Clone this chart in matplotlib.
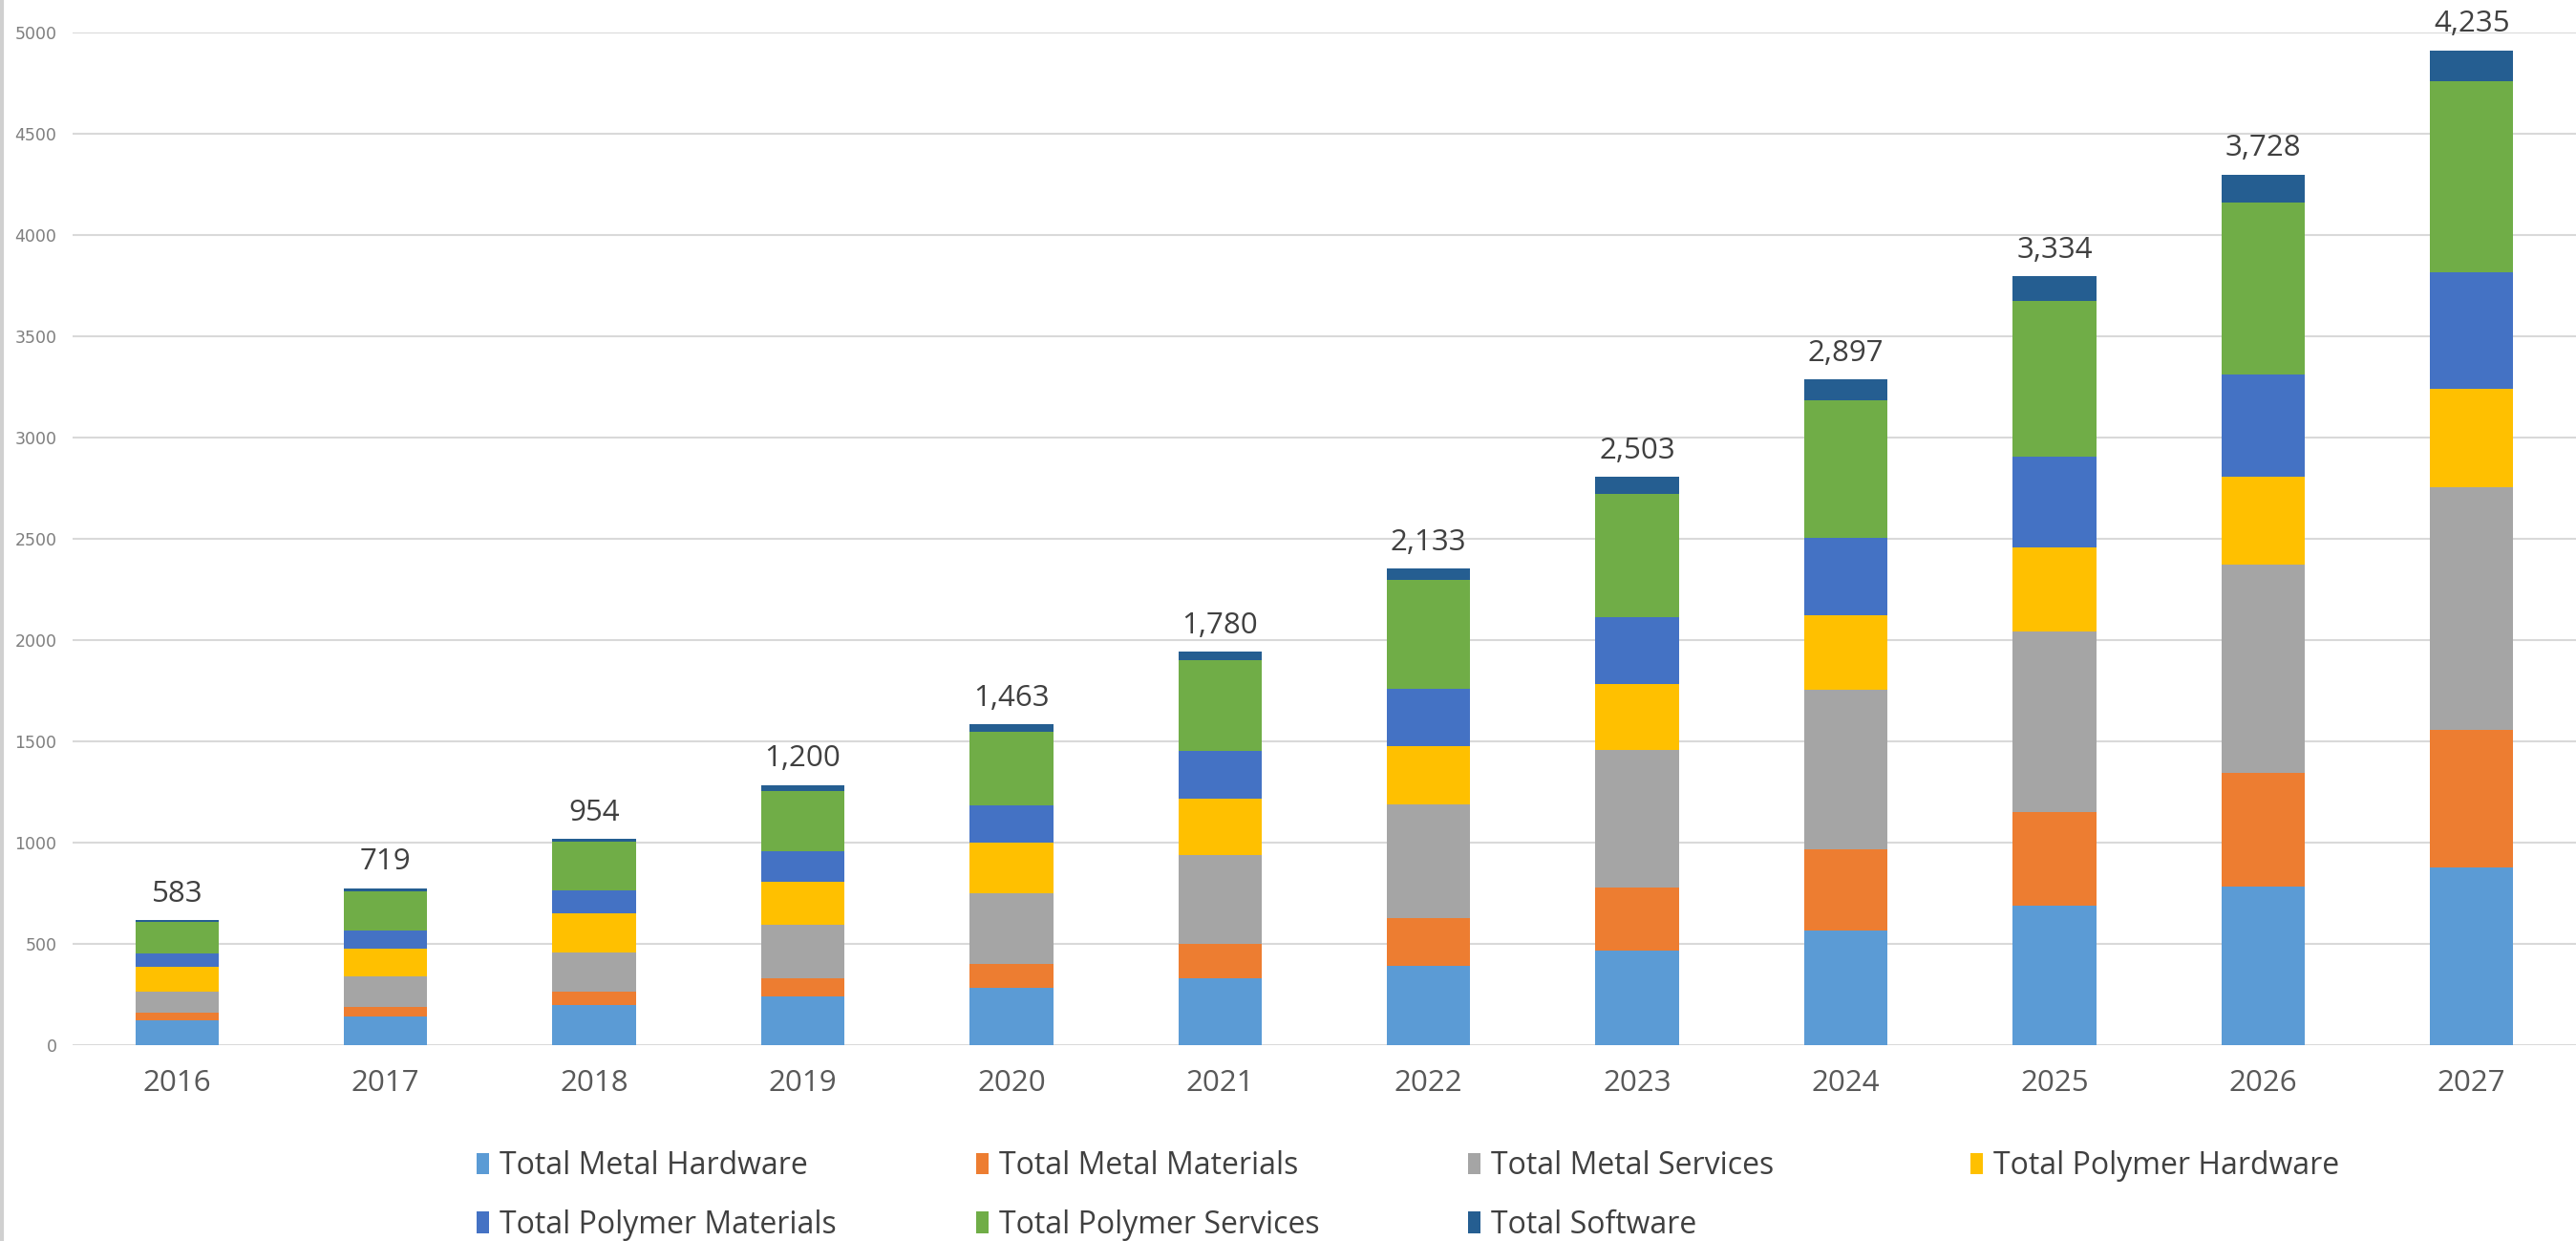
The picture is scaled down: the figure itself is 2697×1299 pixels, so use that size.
import matplotlib
matplotlib.use('Agg')
import matplotlib.pyplot as plt
import numpy as np

# market size by segment, per year
years = ['2016', '2017', '2018', '2019', '2020', '2021', '2022', '2023', '2024', '2025', '2026', '2027']
metal_hardware = [122, 142, 196, 242, 284, 331, 393, 469, 568, 691, 782, 879]
metal_materials = [40, 47, 67, 89, 119, 167, 234, 311, 398, 461, 562, 677]
metal_services = [102, 149, 196, 264, 349, 439, 560, 678, 788, 890, 1031, 1200]
polymer_hardware = [121, 138, 190, 210, 246, 281, 291, 327, 367, 416, 431, 485]
polymer_materials = [68, 91, 114, 151, 185, 234, 282, 330, 382, 448, 505, 576]
polymer_services = [155, 193, 240, 300, 363, 447, 536, 608, 681, 770, 849, 943]
software = [10, 14, 14, 28, 39, 44, 57, 83, 102, 120, 139, 152]
top_labels = ['583', '719', '954', '1,200', '1,463', '1,780', '2,133', '2,503', '2,897', '3,334', '3,728', '4,235']

series = [
    ('Total Metal Hardware', metal_hardware, '#5B9BD5'),
    ('Total Metal Materials', metal_materials, '#ED7D31'),
    ('Total Metal Services', metal_services, '#A5A5A5'),
    ('Total Polymer Hardware', polymer_hardware, '#FFC000'),
    ('Total Polymer Materials', polymer_materials, '#4472C4'),
    ('Total Polymer Services', polymer_services, '#70AD47'),
    ('Total Software', software, '#255E91'),
]

fig = plt.figure(figsize=(26.97, 12.99), dpi=100)
ax = fig.add_axes([0.0282, 0.1578, 0.9718, 0.816])

x = np.arange(len(years))
bottom = np.zeros(len(years))
bars = []
for name, vals, col in series:
    b = ax.bar(x, vals, width=0.4, bottom=bottom, color=col, label=name, linewidth=0, zorder=3)
    bars.append(b)
    bottom += np.array(vals)

# labels sit above each stack
for xi, top, lab in zip(x, bottom, top_labels):
    ax.annotate(lab, (xi, top), xytext=(0, 9), textcoords='offset points',
                ha='center', va='bottom', fontsize=22.5, color='#404040', family='Open Sans')

ax.set_xlim(-0.5, 11.5)
ax.set_ylim(0, 5000)
ax.set_yticks(np.arange(0, 5001, 500))
ax.set_xticks(x)
ax.set_xticklabels(years, fontsize=22.5, color='#595959', family='Open Sans')
for t in ax.get_yticklabels():
    t.set_fontsize(12.5)
    t.set_color('#7f7f7f')
ax.tick_params(axis='both', length=0)
ax.tick_params(axis='x', pad=18)
ax.tick_params(axis='y', pad=12)
ax.grid(axis='y', color='#d9d9d9', linewidth=1.5, zorder=0)
for s in ax.spines.values():
    s.set_visible(False)

# legend: four evenly spaced columns, two rows
col_x = [0.185, 0.379, 0.570, 0.765]
cols = [[0, 4], [1, 5], [2, 6], [3]]
for cx, idx in zip(col_x, cols):
    fig.legend(handles=[bars[i] for i in idx], labels=[series[i][0] for i in idx],
               loc='upper left', bbox_to_anchor=(cx, 0.073), frameon=False,
               prop={'family': 'Open Sans', 'size': 23}, labelcolor='#404040',
               handlelength=0.4, handleheight=0.72, handletextpad=0.35,
               labelspacing=0.9, borderaxespad=0, borderpad=0)

# thin frame edge on the left
fig.add_artist(plt.Line2D([0.0008, 0.0008], [0, 1], color='#d0d0d0', linewidth=3))

plt.savefig('out.png')
